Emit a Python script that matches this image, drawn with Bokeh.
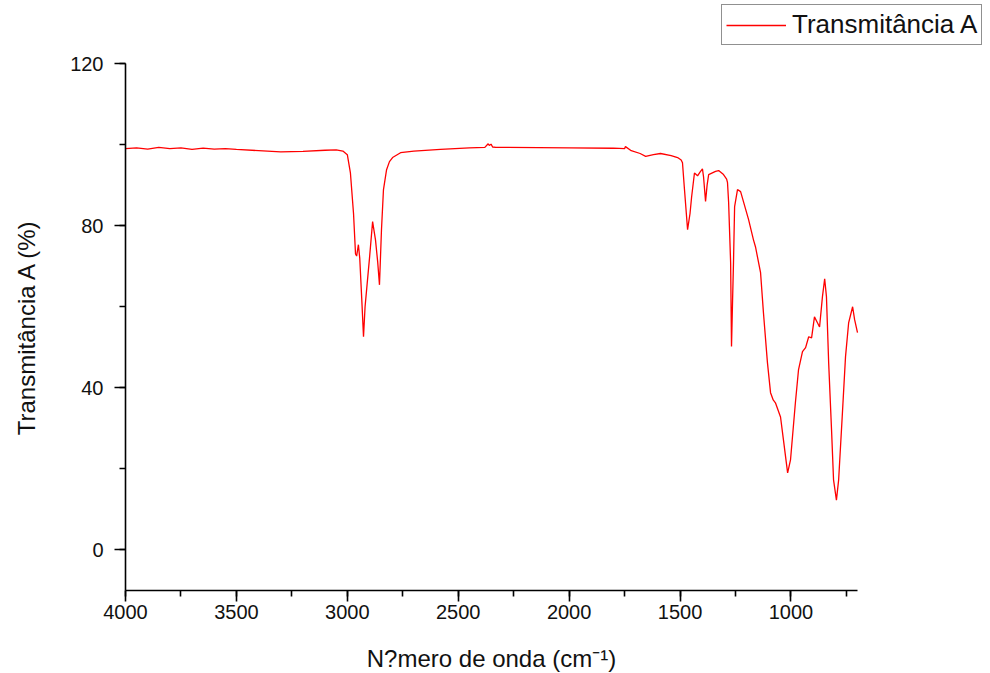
from bokeh.plotting import figure
from bokeh.models import Range1d, SingleIntervalTicker, Legend, LegendItem, ColumnDataSource
from bokeh.embed import file_html
from bokeh.resources import INLINE

# Wavenumber (cm-1) and transmittance (%)
wavenumber = [4000, 3950, 3900, 3850, 3800, 3750, 3700, 3650, 3600, 3550, 3500, 3400, 3300,
              3200, 3100, 3050, 3020, 3000, 2986, 2972, 2963, 2958, 2950, 2944, 2935, 2927,
              2920, 2910, 2900, 2886, 2873, 2863, 2855, 2846, 2837, 2823, 2810, 2796, 2760,
              2700, 2580, 2450, 2380, 2365, 2360, 2352, 2345, 2330, 2300, 2000, 1800, 1750,
              1746, 1720, 1680, 1655, 1620, 1588, 1540, 1511, 1495, 1489, 1480, 1466, 1455,
              1448, 1435, 1421, 1410, 1399, 1394, 1385, 1378, 1371, 1340, 1326, 1304, 1290,
              1286, 1281, 1272, 1268, 1263, 1259, 1254, 1241, 1227, 1191, 1169, 1160, 1137,
              1124, 1106, 1092, 1080, 1070, 1047, 1034, 1015, 1002, 980, 966, 948, 934, 920,
              907, 894, 880, 871, 858, 848, 840, 830, 817, 808, 795, 785, 768, 754, 740, 722,
              713, 700]
transmittance = [99.0, 99.2, 98.9, 99.3, 99.0, 99.2, 98.8, 99.1, 98.9, 99.0, 98.8, 98.5, 98.2,
                 98.3, 98.6, 98.7, 98.4, 97.5, 93.0, 83.0, 73.0, 72.5, 75.3, 72.0, 62.0, 52.6,
                 60.0, 66.0, 72.0, 81.0, 76.5, 71.0, 65.4, 79.0, 88.9, 93.8, 95.8, 96.8, 98.0,
                 98.4, 98.8, 99.2, 99.3, 100.2, 99.8, 100.1, 99.4, 99.3, 99.3, 99.2, 99.1, 99.0,
                 99.5, 98.5, 97.8, 97.1, 97.5, 97.8, 97.3, 96.8, 96.2, 95.5, 88.9, 79.0, 83.0,
                 87.0, 93.0, 92.3, 93.2, 94.0, 92.0, 86.0, 90.0, 92.6, 93.4, 93.6, 92.6, 91.5,
                 90.6, 85.7, 70.9, 50.2, 62.0, 71.0, 84.7, 88.9, 88.4, 81.5, 76.5, 74.8, 68.4,
                 58.5, 46.2, 38.8, 37.0, 36.3, 32.8, 27.2, 19.0, 22.2, 36.3, 44.4, 48.9, 49.9, 52.6,
                 52.3, 57.5, 56.0, 55.0, 62.5, 66.9, 62.5, 46.2, 29.6, 17.3, 12.3, 17.3, 33.8, 47.7, 56.0, 60.0,
                 56.8, 53.6]

x_bounds = (700, 4000)
y_bounds = (-10, 120)
series_name = "Transmitância A"
x_label = "N?mero de onda (cm⁻¹)"
y_label = "Transmitância A (%)"

FONT = "Liberation Sans"
LINE_COLOR = "#ff0000"

# Frame covers the whole canvas (so the legend outside the axes' extent is not
# clipped); the axes are pinned at the data edges with fixed_location.
FRAME_W, FRAME_H = 990, 673
AX_X0, AX_W = 125, 732      # screen x of 4000, pixel length of x axis
AX_Y0, AX_H = 63, 527       # screen y of 120, pixel length of y axis
xs = (x_bounds[1] - x_bounds[0]) / AX_W
ys = (y_bounds[1] - y_bounds[0]) / AX_H
x_left = x_bounds[1] + AX_X0 * xs
x_right = x_bounds[1] - (FRAME_W - AX_X0) * xs
y_top = y_bounds[1] + AX_Y0 * ys
y_bottom = y_bounds[1] - (FRAME_H - AX_Y0) * ys

src = ColumnDataSource(dict(x=wavenumber, y=transmittance))

p = figure(frame_width=FRAME_W, frame_height=FRAME_H, min_border=0,
           x_range=Range1d(x_left, x_right), y_range=Range1d(y_bottom, y_top),
           output_backend="svg", toolbar_location=None, background_fill_color="white",
           border_fill_color="white")
p.outline_line_color = None
p.xgrid.visible = False
p.ygrid.visible = False

r = p.line("x", "y", source=src, line_color=LINE_COLOR, line_width=1.3)

p.xaxis.ticker = SingleIntervalTicker(interval=500, num_minor_ticks=2)
p.yaxis.ticker = SingleIntervalTicker(interval=40, num_minor_ticks=2)
p.xaxis.bounds = x_bounds
p.yaxis.bounds = y_bounds
p.xaxis.fixed_location = y_bounds[0]
p.yaxis.fixed_location = x_bounds[1]

for ax in (p.xaxis[0], p.yaxis[0]):
    ax.axis_line_color = "black"
    ax.axis_line_width = 1.6
    ax.major_tick_line_color = "black"
    ax.major_tick_line_width = 1.6
    ax.minor_tick_line_color = "black"
    ax.minor_tick_line_width = 1.6
    ax.major_tick_out = 11
    ax.major_tick_in = 0
    ax.minor_tick_out = 6
    ax.minor_tick_in = 0
    ax.major_label_text_font = FONT
    ax.major_label_text_font_size = "20px"
    ax.major_label_text_color = "#111111"
    ax.axis_label_text_font = FONT
    ax.axis_label_text_font_size = "24px"
    ax.axis_label_text_font_style = "normal"
    ax.axis_label_text_color = "#111111"

p.xaxis.axis_label = x_label
p.yaxis.axis_label = y_label
p.xaxis.major_label_standoff = 3
p.xaxis.axis_label_standoff = 23
p.yaxis.major_label_standoff = 11
p.yaxis.axis_label_standoff = 27

legend = Legend(items=[LegendItem(label=series_name, renderers=[r])],
                location=(721, 628), orientation="vertical",
                label_text_font=FONT, label_text_font_size="26px", label_text_color="#111111",
                glyph_width=60, glyph_height=22, label_height=22, label_standoff=6,
                padding=4, margin=0, spacing=0,
                border_line_color="#222222", border_line_width=1.2,
                background_fill_color="white", background_fill_alpha=1.0)
p.add_layout(legend, "center")

open("out.html", "w").write(file_html(p, INLINE))
